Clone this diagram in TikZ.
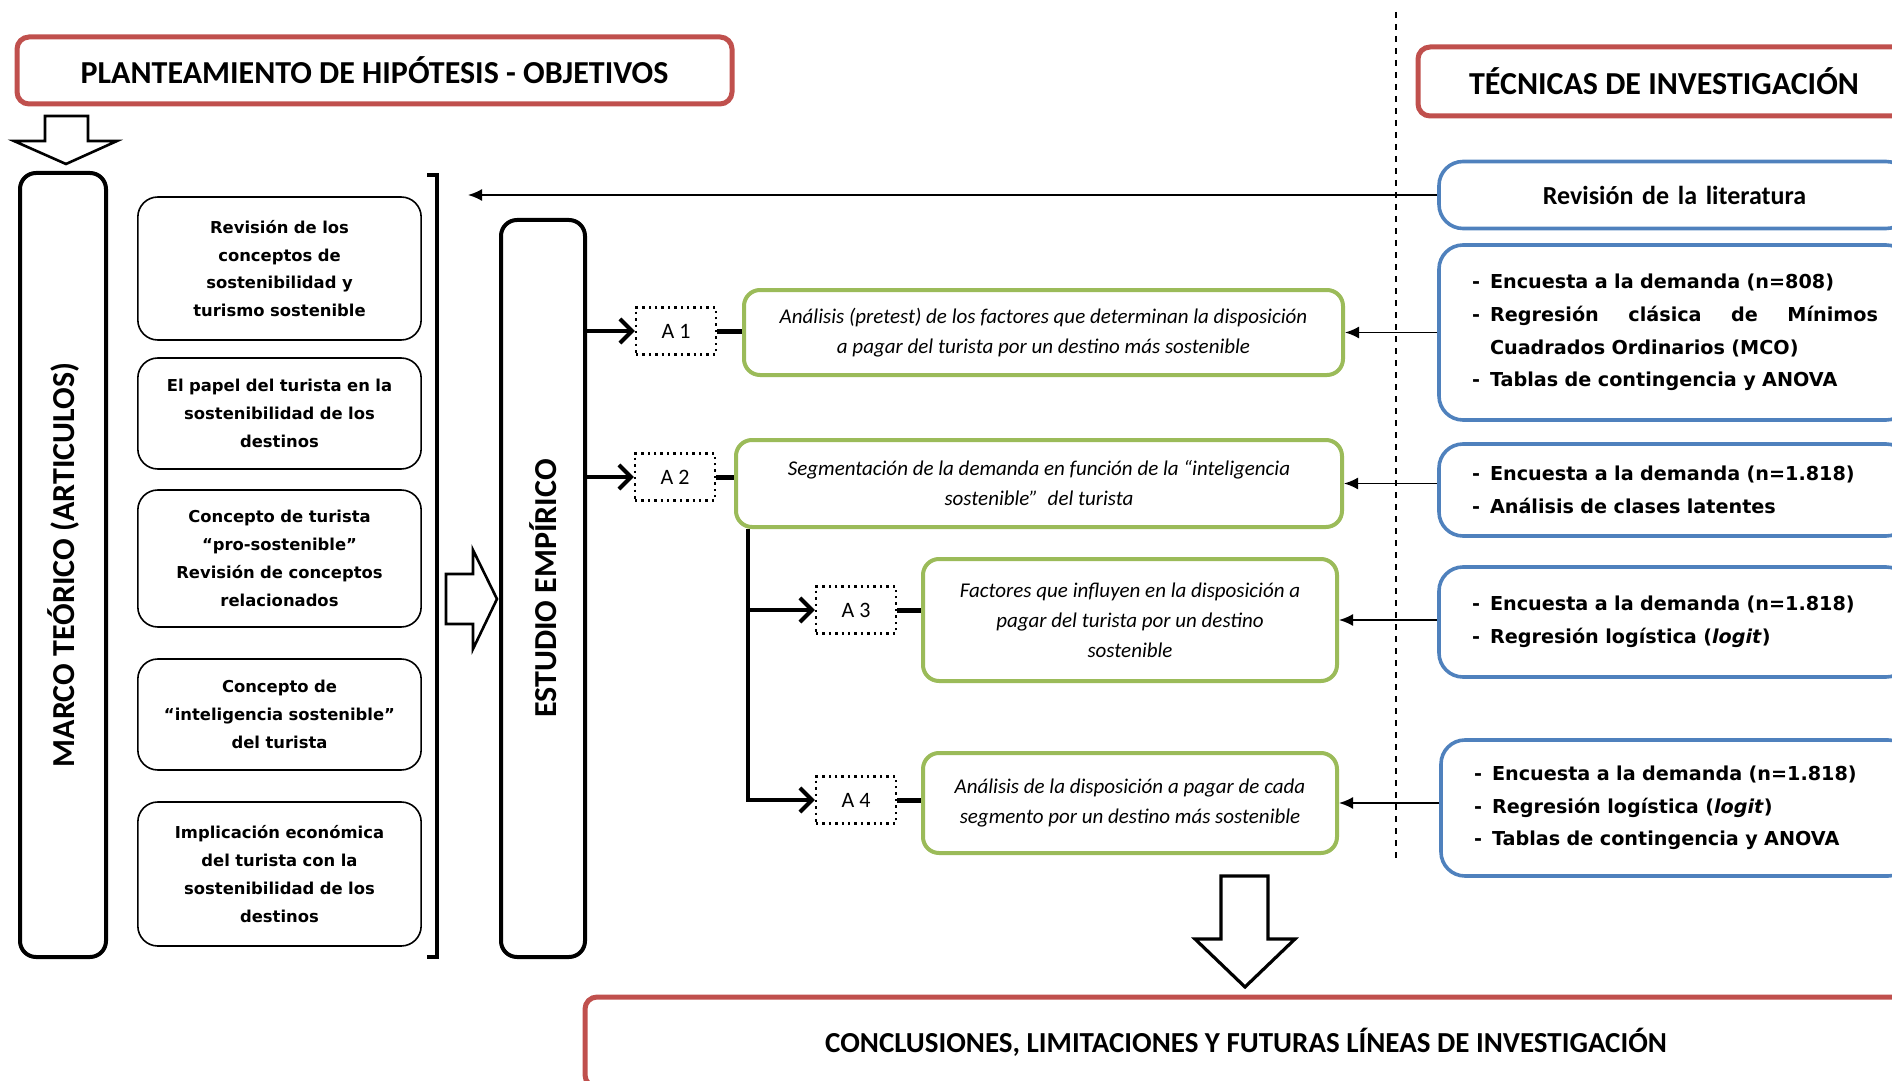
\documentclass[tikz,border=0pt]{standalone}
\usepackage{fontspec}
\setmainfont{Carlito}
\newfontfamily\verdana{DejaVu Sans}
\usetikzlibrary{arrows.meta}
\definecolor{rojo}{HTML}{C0504D}
\definecolor{verde}{HTML}{9BBB59}
\definecolor{azul}{HTML}{4F81BD}
\newcommand{\guion}{\makebox[9pt][l]{-}}

\begin{document}
\begin{tikzpicture}[x=0.5pt,y=-0.5pt,
    titulo/.style={draw=rojo, line width=2.5pt, rounded corners=6pt, font=\fontsize{16}{19}\selectfont\bfseries},
    bloque/.style={draw, line width=2pt, rounded corners=8pt, font=\fontsize{16}{19}\selectfont\bfseries},
    tema/.style={draw, line width=0.8pt, rounded corners=10pt, minimum width=140.5pt, text width=135pt, align=center, font=\verdana\bfseries\fontsize{8.2}{13.9}\selectfont},
    etiqueta/.style={draw, dotted, line width=1.2pt, minimum width=40pt, minimum height=23.5pt, font=\fontsize{11}{13}\selectfont},
    analisis/.style={draw=verde, line width=2pt, rounded corners=8pt, align=center, font=\itshape\fontsize{10.5}{15}\selectfont},
    tecnica/.style={draw=azul, line width=1.8pt, rounded corners=12pt, minimum width=235.5pt, text width=202.5pt, align=left, font=\verdana\bfseries\fontsize{9.6}{16.3}\selectfont},
    flecha/.style={line width=2pt, -{Straight Barb[length=6pt,width=12pt]}},
    enlace/.style={line width=0.9pt, -{Latex[length=7pt,width=6pt]}},
    hueca/.style={draw, line width=1.3pt, fill=white}]
    \useasboundingbox (0,0) rectangle (1892,1081);

    \node[titulo, minimum width=357.5pt, minimum height=33.5pt] (plan) at (374.5,70.5) {PLANTEAMIENTO DE HIPÓTESIS - OBJETIVOS};
    \node[titulo, minimum width=246pt, minimum height=34.5pt] (tecnicas) at (1664,81.5) {TÉCNICAS DE INVESTIGACIÓN};
    \node[titulo, minimum width=661pt, minimum height=45pt, font=\fontsize{14.5}{17}\selectfont\bfseries] (conclusiones) at (1246,1042) {CONCLUSIONES, LIMITACIONES Y FUTURAS LÍNEAS DE INVESTIGACIÓN};

    \draw[hueca] (45,116) -- (88,116) -- (88,141) -- (117,141) -- (66,164) -- (14,141) -- (45,141) -- cycle;
    \node[bloque, minimum width=43pt, minimum height=392pt] (marco) at (63,565) {\rotatebox{90}{MARCO TEÓRICO (ARTICULOS)}};

    \node[tema, minimum height=71.5pt] (t1) at (279.5,268.5) {Revisión de los\\conceptos de\\sostenibilidad y\\turismo sostenible};
    \node[tema, minimum height=55.5pt] (t2) at (279.5,413.5) {El papel del turista en la\\sostenibilidad de los\\destinos};
    \node[tema, minimum height=68.5pt] (t3) at (279.5,558.5) {Concepto de turista\\“pro-sostenible”\\Revisión de conceptos\\relacionados};
    \node[tema, minimum height=55.5pt] (t4) at (279.5,714.5) {Concepto de\\“inteligencia sostenible”\\del turista};
    \node[tema, minimum height=72pt] (t5) at (279.5,874) {Implicación económica\\del turista con la\\sostenibilidad de los\\destinos};

    \draw[line width=2pt] (427,175) -- (437,175) -- (437,957) -- (427,957);
    \draw[hueca] (446,574) -- (473,574) -- (473,550) -- (497,599) -- (473,649) -- (473,624) -- (446,624) -- cycle;
    \node[bloque, minimum width=42pt, minimum height=368.5pt] (estudio) at (543,588.5) {\rotatebox{90}{ESTUDIO EMPÍRICO}};

    \node[etiqueta] (a1) at (676,331) {A 1};
    \node[etiqueta] (a2) at (675,477) {A 2};
    \node[etiqueta] (a3) at (856,610) {A 3};
    \node[etiqueta] (a4) at (856,800) {A 4};

    \node[analisis, minimum width=299.5pt, minimum height=42.5pt] (g1) at (1043.5,332.5) {Análisis (pretest) de los factores que determinan la disposición\\a pagar del turista por un destino más sostenible};
    \node[analisis, minimum width=303pt, minimum height=43.5pt] (g2) at (1039,483.5) {Segmentación de la demanda en función de la “inteligencia\\sostenible”\ \ del turista};
    \node[analisis, minimum width=207pt, minimum height=61pt] (g3) at (1130,620) {Factores que influyen en la disposición a\\pagar del turista por un destino\\sostenible};
    \node[analisis, minimum width=207pt, minimum height=50pt] (g4) at (1130,803) {Análisis de la disposición a pagar de cada\\segmento por un destino más sostenible};

    \draw[dashed, line width=0.8pt] (1396,12) -- (1396,860);

    \node[tecnica, minimum height=33.5pt, align=center, font=\fontsize{13}{16}\selectfont\bfseries] (b1) at (1674.5,195) {Revisión de la literatura};
    \node[tecnica, minimum height=87.5pt] (b2) at (1674.5,332.5) {\guion Encuesta a la demanda (n=808)\\
        \guion\hbox to 194pt{Regresión\hfill clásica\hfill de\hfill Mínimos}\\
        \hspace*{9pt}Cuadrados Ordinarios (MCO)\\
        \guion Tablas de contingencia y ANOVA};
    \node[tecnica, minimum height=46pt] (b3) at (1674.5,490) {\guion Encuesta a la demanda (n=1.818)\\
        \guion Análisis de clases latentes};
    \node[tecnica, minimum height=55pt] (b4) at (1674.5,622) {\guion Encuesta a la demanda (n=1.818)\\
        \guion Regresión logística (\textit{logit})};
    \node[tecnica, minimum height=68pt] (b5) at (1676.5,808) {\guion Encuesta a la demanda (n=1.818)\\
        \guion Regresión logística (\textit{logit})\\
        \guion Tablas de contingencia y ANOVA};

    \coordinate (lit) at (468,195);
    \draw[enlace] (b1.west) -- (lit);
    \draw[enlace] (g1.east -| b2.west) -- (g1.east);
    \draw[enlace] (g2.east -| b3.west) -- (g2.east);
    \draw[enlace] (g3.east -| b4.west) -- (g3.east);
    \draw[enlace] (g4.east -| b5.west) -- (g4.east);

    \draw[flecha] (estudio.east |- a1.west) -- (a1.west);
    \draw[flecha] (estudio.east |- a2.west) -- (a2.west);
    \draw[line width=2.5pt] (a1.east) -- (a1.east -| g1.west);
    \draw[line width=2.5pt] (a2.east) -- (a2.east -| g2.west);
    \draw[line width=2.5pt] (a3.east) -- (a3.east -| g3.west);
    \draw[line width=2.5pt] (a4.east) -- (a4.east -| g4.west);
    \draw[flecha] ([xshift=7pt]g2.south west) |- (a4.west);
    \draw[flecha] ([xshift=7pt]g2.south west |- a3.west) -- (a3.west);

    \draw[hueca, line width=1.6pt] (1221,876) -- (1268,876) -- (1268,939) -- (1295,939) -- (1245,987) -- (1195,939) -- (1221,939) -- cycle;
\end{tikzpicture}
\end{document}
